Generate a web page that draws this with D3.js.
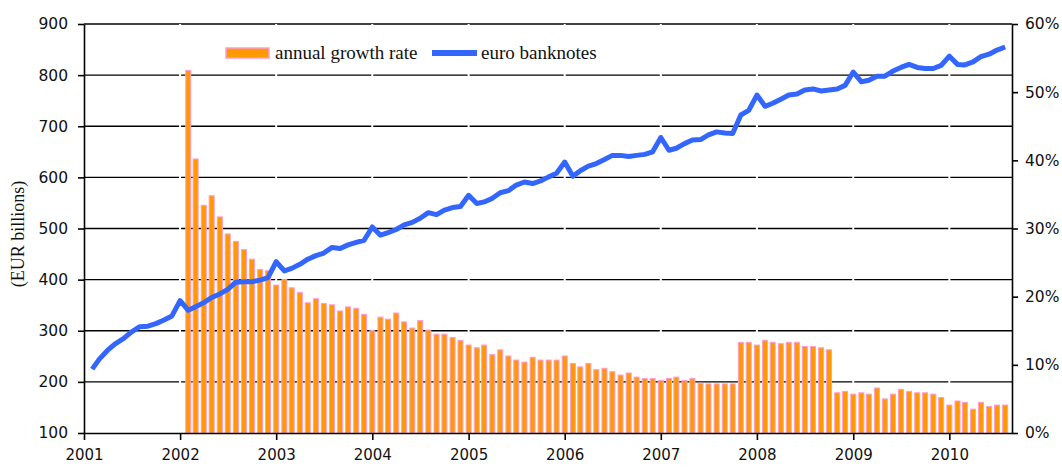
<!DOCTYPE html>
<html>
<head>
<meta charset="utf-8">
<script src="https://cdn.jsdelivr.net/npm/d3@7"></script>
<style>
  html, body { margin: 0; background: #fff; overflow: hidden; }
  svg { display: block; }
  .axis text { font-family: "DejaVu Sans", Verdana, sans-serif; font-size: 15.5px; fill: #111; }
  .x-axis text { font-size: 15px; }
  .axis path, .axis line { stroke: #000; stroke-width: 1.6px; }
  .legend text, .y-label { font-family: "Liberation Serif", "Times New Roman", serif; fill: #111; }
</style>
</head>
<body>
<div id="viz"></div>
<script>
const width = 1062
const height = 470
const margin = {top: 24, bottom: 37, right: 50, left: 84}
const innerWidth = width - margin.left - margin.right;
const innerHeight = height - margin.top - margin.bottom;

// euro banknotes in circulation, EUR billions, monthly from Jan 2001 to Jul 2010
const banknotes = [
  225, 245, 262, 275, 285, 298, 308, 309, 314, 321, 329, 359,
  340, 347, 355, 365, 372, 381, 395, 396, 396, 399, 404, 435,
  417, 422, 430, 440, 447, 452, 463, 461, 468, 473, 477, 503,
  487, 492, 498, 507, 512, 520, 531, 527, 536, 541, 543, 565,
  549, 552, 559, 570, 574, 585, 591, 588, 593, 601, 608, 630,
  602, 613, 622, 627, 635, 643, 643, 641, 643, 645, 650, 678,
  653, 657, 666, 673, 674, 683, 689, 687, 686, 722, 731, 761,
  739, 745, 753, 761, 763, 771, 773, 769, 771, 773, 780, 806,
  787, 790, 798, 798, 808, 815, 821, 815, 813, 813, 819, 837,
  821, 820, 826, 836, 841, 849, 855
]

// annual growth rate in %, monthly from Jan 2002 to Jul 2010
const growth = [
  53.2, 40.2, 33.4, 34.8, 31.7, 29.2, 28.1, 26.9, 25.5, 24.0, 23.8, 21.7,
  22.5, 21.3, 20.6, 19.1, 19.7, 19.0, 18.8, 17.9, 18.5, 18.3, 17.4, 15.0,
  17.0, 16.7, 17.6, 16.3, 15.4, 16.5, 15.1, 14.5, 14.5, 14.0, 13.6, 12.9,
  12.5, 12.9, 11.5, 12.2, 11.3, 10.7, 10.4, 11.1, 10.7, 10.7, 10.7, 11.3,
  10.2, 9.7, 10.2, 9.3, 9.5, 9.0, 8.5, 8.8, 8.2, 8.0, 8.0, 7.7,
  8.0, 8.2, 7.7, 8.0, 7.3, 7.2, 7.2, 7.2, 7.2, 13.3, 13.3, 12.9,
  13.6, 13.3, 13.1, 13.3, 13.3, 12.7, 12.7, 12.5, 12.2, 5.9, 6.1, 5.7,
  5.9, 5.7, 6.6, 5.0, 5.7, 6.4, 6.1, 5.9, 5.9, 5.7, 5.2, 4.1,
  4.7, 4.5, 3.5, 4.5, 3.9, 4.1, 4.1
]

const years = [2001, 2002, 2003, 2004, 2005, 2006, 2007, 2008, 2009, 2010]
const leftTicks = [100, 200, 300, 400, 500, 600, 700, 800, 900]
const rightTicks = [0, 10, 20, 30, 40, 50, 60]

// values are end-of-month, so put them on the first day of the next month
const lineData = banknotes.map((v, i) => ({date: new Date(2001, i + 1, 1), value: v}))
const barData = growth.map((v, i) => ({date: new Date(2002, i + 1, 1), value: v}))

const svg = d3.select("#viz")
  .append("svg")
  .attr("width", width)
  .attr("height", height)

const g = svg.append("g")
  .attr("transform", "translate(" + margin.left + "," + margin.top + ")");

const xScale = d3.scaleTime()
  .domain([new Date(2001, 0, 1), new Date(2010, 7, 27)])
  .range([0, innerWidth]);
const yScale = d3.scaleLinear().domain([100, 900]).range([innerHeight, 0]);
const yRight = d3.scaleLinear().domain([0, 60]).range([innerHeight, 0]);

// horizontal grid
g.selectAll(".grid")
  .data(leftTicks.slice(1))
  .enter().append("line")
  .attr("class", "grid")
  .attr("x1", 0)
  .attr("x2", innerWidth)
  .attr("y1", d => yScale(d))
  .attr("y2", d => yScale(d))
  .attr("stroke", "#000")
  .attr("stroke-width", 1.4)

// small white breaks in the grid at each year
g.selectAll(".year-gap")
  .data(years.slice(1))
  .enter().append("line")
  .attr("class", "year-gap")
  .attr("x1", d => xScale(new Date(d, 0, 1)))
  .attr("x2", d => xScale(new Date(d, 0, 1)))
  .attr("y1", 0)
  .attr("y2", innerHeight)
  .attr("stroke", "#fff")
  .attr("stroke-width", 2)

const barW = 5;
g.selectAll(".bar")
  .data(barData)
  .enter().append("rect")
  .attr("class", "bar")
  .attr("x", d => xScale(d.date) - barW / 2)
  .attr("y", d => yRight(d.value))
  .attr("width", barW)
  .attr("height", d => innerHeight - yRight(d.value))
  .attr("fill", "#ff9900")
  .attr("stroke", "#ff9ccf")
  .attr("stroke-width", 1)

const line = d3.line()
  .x(d => xScale(d.date))
  .y(d => yScale(d.value));

g.append("path")
  .datum(lineData)
  .attr("d", line)
  .attr("fill", "none")
  .attr("stroke", "#3366ff")
  .attr("stroke-width", 5)
  .attr("stroke-linejoin", "round")

const xAxisG = g.append("g")
  .attr("class", "axis x-axis")
  .attr("transform", "translate(0," + innerHeight + ")")
  .call(d3.axisBottom(xScale)
    .tickValues(years.map(y => new Date(y, 0, 1)))
    .tickFormat(d3.timeFormat("%Y"))
    .tickSize(7)
    .tickSizeOuter(0)
    .tickPadding(9));

const yAxisG = g.append("g")
  .attr("class", "axis")
  .call(d3.axisLeft(yScale)
    .tickValues(leftTicks)
    .tickSize(6)
    .tickSizeOuter(0)
    .tickPadding(10));

const yRightG = g.append("g")
  .attr("class", "axis")
  .attr("transform", "translate(" + innerWidth + ",0)")
  .call(d3.axisRight(yRight)
    .tickValues(rightTicks)
    .tickFormat(d => d + "%")
    .tickSize(6)
    .tickSizeOuter(0)
    .tickPadding(7));

// Y-axis label
svg.append("text")
  .attr("class", "y-label")
  .attr("transform", "rotate(-90)")
  .attr("x", -234)
  .attr("y", 24)
  .attr("text-anchor", "middle")
  .style("font-size", "18px")
  .text("(EUR billions)")

// legend
const legend = svg.append("g").attr("class", "legend")
legend.append("rect")
  .attr("x", 226)
  .attr("y", 48)
  .attr("width", 43)
  .attr("height", 10)
  .attr("fill", "#ff9900")
  .attr("stroke", "#ff9ccf")
  .attr("stroke-width", 1.5)
legend.append("text")
  .attr("x", 275)
  .attr("y", 59)
  .style("font-size", "19px")
  .text("annual growth rate")
legend.append("line")
  .attr("x1", 432)
  .attr("x2", 477)
  .attr("y1", 53)
  .attr("y2", 53)
  .attr("stroke", "#3366ff")
  .attr("stroke-width", 6)
legend.append("text")
  .attr("x", 481)
  .attr("y", 59)
  .style("font-size", "19px")
  .text("euro banknotes")
</script>
</body>
</html>
